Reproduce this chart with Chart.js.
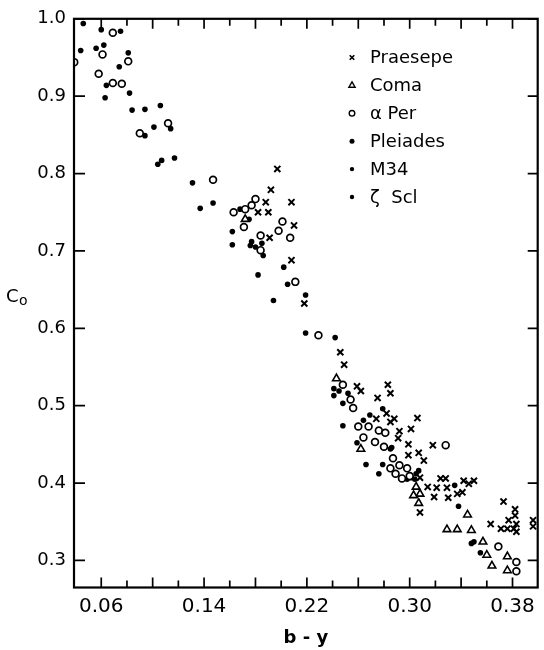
<!DOCTYPE html>
<html>
<head>
<meta charset="utf-8">
<script src="https://cdn.jsdelivr.net/npm/chart.js@4.4.1/dist/chart.umd.min.js"></script>
<style>
    html, body { margin: 0; padding: 0; background: #fff; }
    #wrap { width: 544px; height: 650px; }
</style>
</head>
<body>
<div id="wrap"><canvas id="chart" width="544" height="650"></canvas></div>
<script>
// Axis ticks and labels
const xTicks = [0.06, 0.08, 0.10, 0.12, 0.14, 0.16, 0.18, 0.20, 0.22, 0.24, 0.26, 0.28, 0.30, 0.32, 0.34, 0.36, 0.38];
const xTickLabels = ['0.06', '0.14', '0.22', '0.30', '0.38'];
const yTicks = [0.3, 0.4, 0.5, 0.6, 0.7, 0.8, 0.9, 1.0];
const yTickLabels = ['0.3', '0.4', '0.5', '0.6', '0.7', '0.8', '0.9', '1.0'];

// Series (b-y, c0)
const praesepeX = [0.197, 0.192, 0.188, 0.208, 0.182, 0.190, 0.210, 0.191, 0.208, 0.218, 0.246, 0.249, 0.259, 0.262, 0.275, 0.283, 0.285, 0.282, 0.274, 0.285, 0.288, 0.306, 0.292, 0.301, 0.291, 0.299, 0.318, 0.307, 0.311, 0.299, 0.308, 0.308, 0.314, 0.321, 0.319, 0.324, 0.328, 0.329, 0.330, 0.337, 0.341, 0.342, 0.350, 0.346, 0.363, 0.373, 0.382, 0.377, 0.382, 0.383, 0.371, 0.376, 0.381, 0.383, 0.396, 0.396];
const praesepeY = [0.806, 0.779, 0.763, 0.763, 0.750, 0.750, 0.733, 0.717, 0.688, 0.632, 0.569, 0.553, 0.525, 0.519, 0.510, 0.527, 0.516, 0.490, 0.483, 0.479, 0.483, 0.484, 0.467, 0.470, 0.458, 0.450, 0.449, 0.439, 0.429, 0.436, 0.407, 0.362, 0.395, 0.394, 0.382, 0.406, 0.406, 0.394, 0.381, 0.386, 0.388, 0.403, 0.403, 0.399, 0.347, 0.376, 0.366, 0.352, 0.358, 0.347, 0.341, 0.341, 0.341, 0.337, 0.352, 0.344];

const comaX = [0.172, 0.243, 0.262, 0.305, 0.308, 0.303, 0.307, 0.345, 0.329, 0.337, 0.348, 0.357, 0.360, 0.364, 0.376, 0.376];
const comaY = [0.741, 0.535, 0.444, 0.395, 0.386, 0.384, 0.374, 0.359, 0.340, 0.340, 0.339, 0.324, 0.307, 0.293, 0.305, 0.287];

const alphaPerX = [0.039, 0.069, 0.061, 0.081, 0.058, 0.069, 0.076, 0.090, 0.112, 0.147, 0.180, 0.177, 0.172, 0.163, 0.171, 0.201, 0.198, 0.184, 0.207, 0.184, 0.211, 0.229, 0.248, 0.254, 0.256, 0.260, 0.268, 0.276, 0.281, 0.264, 0.273, 0.280, 0.287, 0.285, 0.289, 0.292, 0.298, 0.294, 0.300, 0.328, 0.369, 0.383, 0.383];
const alphaPerY = [0.944, 0.982, 0.954, 0.945, 0.929, 0.917, 0.916, 0.852, 0.865, 0.792, 0.767, 0.759, 0.754, 0.750, 0.731, 0.738, 0.726, 0.720, 0.717, 0.701, 0.660, 0.591, 0.527, 0.508, 0.497, 0.473, 0.473, 0.468, 0.465, 0.459, 0.453, 0.447, 0.432, 0.419, 0.412, 0.423, 0.419, 0.406, 0.409, 0.449, 0.318, 0.298, 0.286];

const pleiadesX = [0.046, 0.044, 0.060, 0.075, 0.056, 0.062, 0.081, 0.074, 0.064, 0.063, 0.082, 0.084, 0.094, 0.106, 0.094, 0.101, 0.114, 0.104, 0.107, 0.117, 0.131, 0.137, 0.147, 0.168, 0.175, 0.162, 0.162, 0.177, 0.176, 0.180, 0.185, 0.186];
const pleiadesY = [0.994, 0.959, 0.986, 0.984, 0.962, 0.966, 0.956, 0.938, 0.914, 0.898, 0.904, 0.882, 0.883, 0.888, 0.849, 0.860, 0.858, 0.812, 0.817, 0.820, 0.788, 0.755, 0.762, 0.754, 0.741, 0.725, 0.708, 0.712, 0.707, 0.705, 0.710, 0.694];

const m34X = [0.202, 0.182, 0.205, 0.219, 0.194, 0.219, 0.242, 0.241, 0.245, 0.241, 0.252, 0.248, 0.279, 0.269, 0.264, 0.248, 0.259];
const m34Y = [0.679, 0.669, 0.657, 0.643, 0.636, 0.594, 0.588, 0.522, 0.519, 0.513, 0.516, 0.503, 0.496, 0.488, 0.481, 0.474, 0.452];

const zetaSclX = [0.286, 0.285, 0.266, 0.279, 0.276, 0.298, 0.301, 0.305, 0.307, 0.304, 0.335, 0.338, 0.348, 0.350, 0.355];
const zetaSclY = [0.446, 0.444, 0.424, 0.424, 0.412, 0.405, 0.407, 0.412, 0.416, 0.405, 0.397, 0.370, 0.322, 0.324, 0.310];

const FONT = "'DejaVu Sans', sans-serif";

function pairs(xs, ys) {
    return xs.map((x, i) => ({ x: x, y: ys[i] }));
}

function series(label, xs, ys, style, radius, fill, border, legendRadius) {
    return {
        label: label,
        data: pairs(xs, ys),
        pointStyle: style,
        pointRadius: radius,
        pointBackgroundColor: fill,
        pointBorderColor: '#000',
        pointBorderWidth: border,
        pointHoverRadius: radius,
        showLine: false,
        legendRadius: legendRadius
    };
}

const datasets = [
    series('Praesepe', praesepeX, praesepeY, 'crossRot', 4.3, '#000', 2, 3.2),
    series('Coma', comaX, comaY, 'triangle', 4.4, '#fff', 1.6, 3.6),
    series('\u03b1 Per', alphaPerX, alphaPerY, 'circle', 3.4, '#fff', 1.7, 2.8),
    series('Pleiades', pleiadesX, pleiadesY, 'circle', 2.8, '#000', 0, 2.5),
    series('M34', m34X, m34Y, 'circle', 2.8, '#000', 0, 2.2),
    series('\u03b6  Scl', zetaSclX, zetaSclY, 'circle', 2.8, '#000', 0, 2.2)
];

// Frame, inward ticks, axis titles and the legend box
const framePlugin = {
    id: 'frame',
    afterDraw(chart) {
        const { ctx, chartArea: a, scales: { x, y } } = chart;
        ctx.save();
        ctx.strokeStyle = '#000';
        ctx.lineWidth = 2.2;
        ctx.strokeRect(a.left, a.top, a.right - a.left, a.bottom - a.top);

        ctx.lineWidth = 1.7;
        ctx.beginPath();
        xTicks.forEach((v, i) => {
            const px = x.getPixelForValue(v);
            const len = i % 2 === 0 ? 10 : 7;
            ctx.moveTo(px, a.bottom);
            ctx.lineTo(px, a.bottom - len);
            ctx.moveTo(px, a.top);
            ctx.lineTo(px, a.top + len);
        });
        yTicks.forEach(v => {
            const py = y.getPixelForValue(v);
            ctx.moveTo(a.left, py);
            ctx.lineTo(a.left + 11, py);
            ctx.moveTo(a.right, py);
            ctx.lineTo(a.right - 10, py);
        });
        ctx.stroke();

        // axis titles
        ctx.fillStyle = '#000';
        ctx.textBaseline = 'alphabetic';
        ctx.textAlign = 'center';
        ctx.font = 'bold 18px ' + FONT;
        ctx.fillText('b - y', (a.left + a.right) / 2, 643);
        ctx.textAlign = 'left';
        ctx.font = '18px ' + FONT;
        ctx.fillText('C', 6, 302);
        ctx.font = '14px ' + FONT;
        ctx.fillText('o', 19, 305);

        // legend
        ctx.font = '18px ' + FONT;
        ctx.textBaseline = 'middle';
        chart.data.datasets.forEach((ds, i) => {
            const ly = 57.5 + i * 27.9;
            ctx.fillStyle = ds.pointBackgroundColor;
            ctx.strokeStyle = '#000';
            ctx.lineWidth = ds.pointStyle === 'crossRot' ? 1.7 : 1.4;
            Chart.helpers.drawPoint(ctx, {
                pointStyle: ds.pointStyle,
                radius: ds.legendRadius,
                rotation: 0,
                borderWidth: ds.pointBorderWidth
            }, 352, ly);
            ctx.fillStyle = '#000';
            ctx.fillText(ds.label, 370, ly + 1);
        });
        ctx.restore();
    }
};

new Chart(document.getElementById('chart'), {
    type: 'scatter',
    data: { datasets: datasets },
    options: {
        responsive: false,
        animation: false,
        layout: { padding: { top: 14, right: 1, left: 0, bottom: 0 } },
        plugins: {
            legend: { display: false },
            tooltip: { enabled: false }
        },
        scales: {
            x: {
                type: 'linear',
                min: 0.0388,
                max: 0.3996,
                grid: { display: false, drawTicks: false },
                border: { display: false },
                afterBuildTicks: s => { s.ticks = xTicks.map(v => ({ value: v })); },
                afterFit: s => { s.height = 62.5; },
                ticks: {
                    autoSkip: false,
                    maxRotation: 0,
                    padding: 7,
                    color: '#000',
                    font: { family: FONT, size: 20 },
                    callback: v => xTickLabels.find(l => Math.abs(parseFloat(l) - v) < 1e-6) || ''
                }
            },
            y: {
                type: 'linear',
                min: 0.265,
                max: 1.0,
                grid: { display: false, drawTicks: false },
                border: { display: false },
                afterBuildTicks: s => { s.ticks = yTicks.map(v => ({ value: v })); },
                afterFit: s => { s.width = 74; },
                ticks: {
                    autoSkip: false,
                    padding: 8,
                    color: '#000',
                    font: { family: FONT, size: 18 },
                    callback: v => yTickLabels.find(l => Math.abs(parseFloat(l) - v) < 1e-6) || ''
                }
            }
        }
    },
    plugins: [framePlugin]
});
</script>
</body>
</html>
